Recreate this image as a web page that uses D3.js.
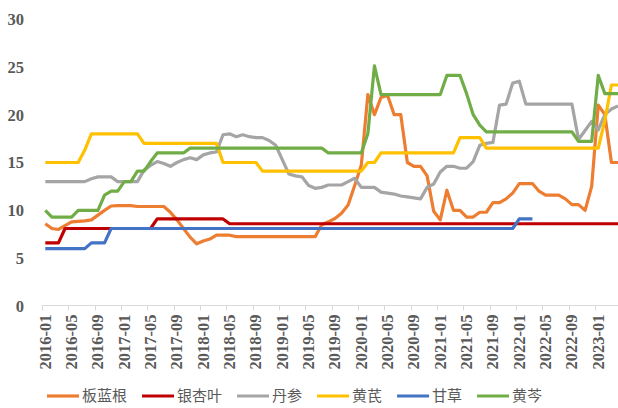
<!DOCTYPE html>
<html>
<head>
<meta charset="utf-8">
<script src="https://cdn.jsdelivr.net/npm/d3@7/dist/d3.min.js"></script>
<style>
  html, body { margin: 0; padding: 0; background: #ffffff; }
  svg { display: block; }
</style>
</head>
<body>
<div id="chart"></div>
<script>
// ---------- DATA ----------
const months = [
  "2016-01","2016-02","2016-03","2016-04","2016-05","2016-06","2016-07","2016-08","2016-09","2016-10","2016-11","2016-12",
  "2017-01","2017-02","2017-03","2017-04","2017-05","2017-06","2017-07","2017-08","2017-09","2017-10","2017-11","2017-12",
  "2018-01","2018-02","2018-03","2018-04","2018-05","2018-06","2018-07","2018-08","2018-09","2018-10","2018-11","2018-12",
  "2019-01","2019-02","2019-03","2019-04","2019-05","2019-06","2019-07","2019-08","2019-09","2019-10","2019-11","2019-12",
  "2020-01","2020-02","2020-03","2020-04","2020-05","2020-06","2020-07","2020-08","2020-09","2020-10","2020-11","2020-12",
  "2021-01","2021-02","2021-03","2021-04","2021-05","2021-06","2021-07","2021-08","2021-09","2021-10","2021-11","2021-12",
  "2022-01","2022-02","2022-03","2022-04","2022-05","2022-06","2022-07","2022-08","2022-09","2022-10","2022-11","2022-12",
  "2023-01","2023-02","2023-03","2023-04"
];

const xTickLabels = [
  "2016-01","2016-05","2016-09","2017-01","2017-05","2017-09","2018-01","2018-05","2018-09",
  "2019-01","2019-05","2019-09","2020-01","2020-05","2020-09","2021-01","2021-05","2021-09",
  "2022-01","2022-05","2022-09","2023-01"
];

const yTicks = [0, 5, 10, 15, 20, 25, 30];

const seriesNames = ["板蓝根", "银杏叶", "丹参", "黄芪", "甘草", "黄芩"];

const banlangen = [
  8.6, 8.1, 8.0, 8.4, 8.8, 8.85, 8.9, 9.0, 9.5, 10.0, 10.45, 10.5,
  10.5, 10.5, 10.4, 10.4, 10.4, 10.4, 10.4, 9.8, 9.0, 8.1, 7.2, 6.5,
  6.8, 7.0, 7.4, 7.4, 7.4, 7.25, 7.25, 7.25, 7.25, 7.25, 7.25, 7.25,
  7.25, 7.25, 7.25, 7.25, 7.25, 7.25, 8.5, 8.8, 9.15, 9.7, 10.55, 12.6,
  14.7, 22.1, 20.0, 21.8, 22.0, 20.0, 20.0, 15.0, 14.6, 14.6, 13.6, 9.9,
  9.0, 12.1, 10.0, 10.0, 9.3, 9.3, 9.8, 9.8, 10.8, 10.8, 11.2, 11.8,
  12.8, 12.8, 12.8, 12.0, 11.6, 11.6, 11.6, 11.2, 10.6, 10.6, 10.0, 12.5,
  21.0, 20.0, 15.0, 15.0
];

const yinxingye = [
  6.6, 6.6, 6.6, 8.1, 8.1, 8.1, 8.1, 8.1, 8.1, 8.1, 8.1, 8.1,
  8.1, 8.1, 8.1, 8.1, 8.1, 9.1, 9.1, 9.1, 9.1, 9.1, 9.1, 9.1,
  9.1, 9.1, 9.1, 9.1, 8.6, 8.6, 8.6, 8.6, 8.6, 8.6, 8.6, 8.6,
  8.6, 8.6, 8.6, 8.6, 8.6, 8.6, 8.6, 8.6, 8.6, 8.6, 8.6, 8.6,
  8.6, 8.6, 8.6, 8.6, 8.6, 8.6, 8.6, 8.6, 8.6, 8.6, 8.6, 8.6,
  8.6, 8.6, 8.6, 8.6, 8.6, 8.6, 8.6, 8.6, 8.6, 8.6, 8.6, 8.6,
  8.6, 8.6, 8.6, 8.6, 8.6, 8.6, 8.6, 8.6, 8.6, 8.6, 8.6, 8.6,
  8.6, 8.6, 8.6, 8.6
];

const danshen = [
  13.0, 13.0, 13.0, 13.0, 13.0, 13.0, 13.0, 13.3, 13.5, 13.5, 13.5, 13.0,
  13.0, 13.0, 13.0, 14.2, 14.7, 15.1, 14.9, 14.6, 15.0, 15.3, 15.5, 15.3,
  15.8, 16.0, 16.1, 17.9, 18.0, 17.7, 17.9, 17.7, 17.6, 17.6, 17.3, 16.8,
  15.3, 13.8, 13.6, 13.5, 12.6, 12.3, 12.4, 12.65, 12.65, 12.65, 13.0, 13.35,
  12.4, 12.4, 12.4, 11.9, 11.8, 11.7, 11.5, 11.4, 11.3, 11.2, 12.4, 12.75,
  14.0, 14.6, 14.6, 14.4, 14.4, 15.1, 16.8, 17.0, 17.1, 21.0, 21.1, 23.3,
  23.5, 21.1, 21.1, 21.1, 21.1, 21.1, 21.1, 21.1, 21.1, 17.4, 18.35, 19.3,
  18.4, 20.0, 20.6, 20.9
];

const huangqi = [
  15.0, 15.0, 15.0, 15.0, 15.0, 15.0, 16.3, 18.0, 18.0, 18.0, 18.0, 18.0,
  18.0, 18.0, 18.0, 17.0, 17.0, 17.0, 17.0, 17.0, 17.0, 17.0, 17.0, 17.0,
  17.0, 17.0, 17.0, 15.0, 15.0, 15.0, 15.0, 15.0, 15.0, 14.1, 14.1, 14.1,
  14.1, 14.1, 14.1, 14.1, 14.1, 14.1, 14.1, 14.1, 14.1, 14.1, 14.1, 14.1,
  14.1, 15.0, 15.0, 16.0, 16.0, 16.0, 16.0, 16.0, 16.0, 16.0, 16.0, 16.0,
  16.0, 16.0, 16.0, 17.6, 17.6, 17.6, 17.6, 16.5, 16.5, 16.5, 16.5, 16.5,
  16.5, 16.5, 16.5, 16.5, 16.5, 16.5, 16.5, 16.5, 16.5, 16.5, 16.5, 16.5,
  16.5, 19.4, 23.1, 23.1
];

const gancao = [
  6.0, 6.0, 6.0, 6.0, 6.0, 6.0, 6.0, 6.6, 6.6, 6.6, 8.1, 8.1,
  8.1, 8.1, 8.1, 8.1, 8.1, 8.1, 8.1, 8.1, 8.1, 8.1, 8.1, 8.1,
  8.1, 8.1, 8.1, 8.1, 8.1, 8.1, 8.1, 8.1, 8.1, 8.1, 8.1, 8.1,
  8.1, 8.1, 8.1, 8.1, 8.1, 8.1, 8.1, 8.1, 8.1, 8.1, 8.1, 8.1,
  8.1, 8.1, 8.1, 8.1, 8.1, 8.1, 8.1, 8.1, 8.1, 8.1, 8.1, 8.1,
  8.1, 8.1, 8.1, 8.1, 8.1, 8.1, 8.1, 8.1, 8.1, 8.1, 8.1, 8.1,
  9.1, 9.1, 9.1, null, null, null, null, null, null, null, null, null,
  null, null, null, null
];

const huangqin = [
  10.0, 9.3, 9.3, 9.3, 9.3, 10.0, 10.0, 10.0, 10.0, 11.6, 12.0, 12.0,
  13.0, 13.0, 14.1, 14.1, 15.1, 16.0, 16.0, 16.0, 16.0, 16.0, 16.5, 16.5,
  16.5, 16.5, 16.5, 16.5, 16.5, 16.5, 16.5, 16.5, 16.5, 16.5, 16.5, 16.5,
  16.5, 16.5, 16.5, 16.5, 16.5, 16.5, 16.5, 16.0, 16.0, 16.0, 16.0, 16.0,
  16.0, 18.0, 25.1, 22.1, 22.1, 22.1, 22.1, 22.1, 22.1, 22.1, 22.1, 22.1,
  22.1, 24.1, 24.1, 24.1, 22.2, 20.0, 18.9, 18.2, 18.2, 18.2, 18.2, 18.2,
  18.2, 18.2, 18.2, 18.2, 18.2, 18.2, 18.2, 18.2, 18.2, 17.2, 17.2, 17.2,
  24.1, 22.2, 22.2, 22.2
];

const seriesValues = [banlangen, yinxingye, danshen, huangqi, gancao, huangqin];
const seriesColors = ["#ED7D31", "#C00000", "#A5A5A5", "#FFC000", "#4472C4", "#70AD47"];

// ---------- CHART ----------
const W = 618, H = 408;
const svg = d3.select("#chart").append("svg").attr("width", W).attr("height", H);

const step = 6.583;
const x = d3.scaleBand().domain(months).range([42, 42 + months.length * step]).padding(0);
const cx = m => x(m) + x.bandwidth() / 2;
const y = d3.scaleLinear().domain([0, 30]).range([306, 19]);

const numFont = "'Liberation Serif', 'Times New Roman', serif";
const textColor = "#595959";

// y axis labels
const yAxis = svg.append("g").attr("transform", "translate(24,0)")
  .call(d3.axisLeft(y).tickValues(yTicks).tickSize(0).tickPadding(0).tickFormat(d3.format("d")));
yAxis.select(".domain").remove();
yAxis.selectAll("text")
  .attr("font-family", numFont).attr("font-size", 16.5).attr("font-weight", "bold")
  .attr("fill", textColor).attr("dy", "0.33em");

// x axis line
const axisY = 305.5;
svg.append("line").attr("x1", 42).attr("x2", x.range()[1]).attr("y1", axisY).attr("y2", axisY)
  .attr("stroke", "#D9D9D9").attr("stroke-width", 1);
// tick marks at category boundaries, every 4 months
svg.append("g").selectAll("line").data(xTickLabels).join("line")
  .attr("x1", d => Math.round(x(d)) + 0.5).attr("x2", d => Math.round(x(d)) + 0.5)
  .attr("y1", axisY).attr("y2", axisY + 5)
  .attr("stroke", "#D9D9D9").attr("stroke-width", 1);

// x axis labels (rotated)
const xAxis = svg.append("g").attr("transform", `translate(0,${axisY})`)
  .call(d3.axisBottom(x).tickValues(xTickLabels).tickSize(0).tickPadding(0));
xAxis.select(".domain").remove();
xAxis.selectAll(".tick text")
  .attr("font-family", numFont).attr("font-size", 16.5).attr("font-weight", "bold")
  .attr("fill", textColor)
  .attr("text-anchor", "end")
  .attr("transform", "translate(0,9) rotate(-90)")
  .attr("x", 0).attr("y", 0).attr("dy", "0.33em");

// lines
const line = d3.line()
  .defined(d => d.v !== null)
  .x(d => cx(d.m))
  .y(d => y(d.v));

svg.append("g").selectAll("path").data(seriesValues).join("path")
  .attr("d", vals => line(vals.map((v, i) => ({ m: months[i], v }))))
  .attr("fill", "none")
  .attr("stroke", (d, i) => seriesColors[i])
  .attr("stroke-width", 3.2)
  .attr("stroke-linejoin", "round")
  .attr("stroke-linecap", "butt");

// legend
const legendY = 396;
const legend = svg.append("g");
let lx = 47;
seriesNames.forEach((name, i) => {
  legend.append("line").attr("x1", lx).attr("x2", lx + 32).attr("y1", legendY).attr("y2", legendY)
    .attr("stroke", seriesColors[i]).attr("stroke-width", 3.2);
  const t = legend.append("text").attr("x", lx + 35).attr("y", legendY).attr("dy", "0.35em")
    .attr("font-family", "'Noto Sans CJK SC', sans-serif").attr("font-size", 15)
    .attr("fill", textColor).text(name);
  lx += 35 + t.node().getComputedTextLength() + 15;
});
</script>
</body>
</html>
